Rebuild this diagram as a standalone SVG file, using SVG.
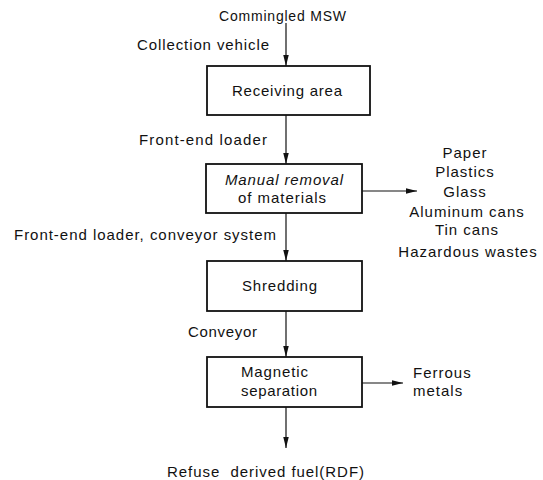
<svg xmlns="http://www.w3.org/2000/svg" width="543" height="480" viewBox="0 0 543 480">
<style>
  text { font-family: "Liberation Sans", Arial, sans-serif; font-size: 15px; fill: #111; letter-spacing: 1px; }
  .box { fill: #fff; stroke: #111; stroke-width: 1.8; }
  .conn { stroke: #111; stroke-width: 1.2; fill: none; marker-end: url(#arr); }
  .mid { text-anchor: middle; }
  .it { font-style: italic; }
</style>
<defs>
  <marker id="arr" markerUnits="userSpaceOnUse" markerWidth="12" markerHeight="6" refX="11" refY="2.75" orient="auto">
    <path d="M0,0 L11,2.75 L0,5.5 z" fill="#111"/>
  </marker>
</defs>
<rect width="543" height="480" fill="#fff"/>

<g id="connectors">
  <line class="conn" x1="286" y1="23" x2="286" y2="66"/>
  <line class="conn" x1="286" y1="115" x2="286" y2="164"/>
  <line class="conn" x1="286" y1="213" x2="286" y2="261"/>
  <line class="conn" x1="286" y1="311" x2="286" y2="357"/>
  <line class="conn" x1="286" y1="407" x2="286" y2="448"/>
  <line class="conn" x1="362" y1="191" x2="417" y2="191"/>
  <line class="conn" x1="362" y1="383" x2="403" y2="383"/>
</g>

<g id="labels">
  <text x="219" y="21" style="font-size:14px" textLength="128" lengthAdjust="spacing">Commingled MSW</text>
  <text x="137" y="50" textLength="133" lengthAdjust="spacing">Collection vehicle</text>
  <text x="139" y="145" textLength="129" lengthAdjust="spacing">Front-end loader</text>
  <text x="14" y="240" textLength="263" lengthAdjust="spacing">Front-end loader, conveyor system</text>
  <text x="188" y="337" textLength="70" lengthAdjust="spacing">Conveyor</text>
</g>

<g id="receiving">
  <rect class="box" x="207" y="66" width="163" height="49"/>
  <text x="232" y="96" textLength="111" lengthAdjust="spacing">Receiving area</text>
</g>

<g id="manual">
  <rect class="box" x="206" y="164" width="156" height="49"/>
  <text class="it" x="225" y="185" textLength="119" lengthAdjust="spacing">Manual removal</text>
  <text x="238" y="203" textLength="89" lengthAdjust="spacing">of materials</text>
</g>

<g id="materials">
  <text class="mid" x="465" y="158">Paper</text>
  <text class="mid" x="465" y="177">Plastics</text>
  <text class="mid" x="465" y="197">Glass</text>
  <text class="mid" x="467" y="217">Aluminum cans</text>
  <text class="mid" x="467" y="235">Tin cans</text>
  <text class="mid" x="468" y="257">Hazardous wastes</text>
</g>

<g id="shredding">
  <rect class="box" x="207" y="261" width="155" height="50"/>
  <text x="242" y="291" textLength="76" lengthAdjust="spacing">Shredding</text>
</g>

<g id="magnetic">
  <rect class="box" x="207" y="357" width="155" height="50"/>
  <text x="241" y="377" textLength="68" lengthAdjust="spacing">Magnetic</text>
  <text x="241" y="396" textLength="77" lengthAdjust="spacing">separation</text>
</g>

<g id="ferrous">
  <text x="413" y="378">Ferrous</text>
  <text x="413" y="396">metals</text>
</g>

<g id="rdf">
  <text x="167" y="477" textLength="198" lengthAdjust="spacing" style="white-space:pre">Refuse  derived fuel(RDF)</text>
</g>
</svg>
